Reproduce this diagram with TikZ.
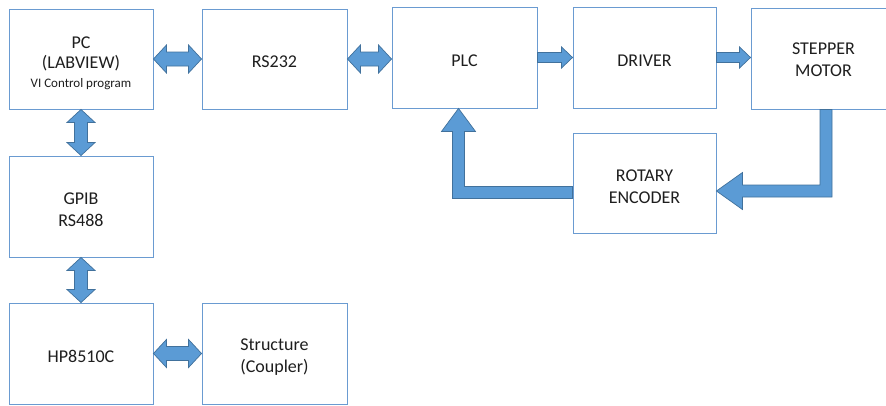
\documentclass[tikz,border=0pt]{standalone}
\usepackage{fontspec}
\setmainfont{Carlito}
\usetikzlibrary{calc}
\definecolor{boxblue}{HTML}{6A9BD1}
\definecolor{arrfill}{HTML}{5B9BD5}
\definecolor{arrline}{HTML}{41719C}
\definecolor{textgray}{HTML}{1E1E1E}
\newcommand{\topstrut}[1]{\rule{0pt}{#1}}
\tikzset{
  blk/.style={draw=boxblue, line width=0.9pt, fill=white, inner sep=0pt, align=center,
    text=textgray, font=\fontsize{18}{22}\selectfont,
    execute at begin node={\rule{0pt}{17.5pt}}},
  fatarrow/.style={fill=arrfill, draw=arrline, line width=0.7pt, line join=miter}
}
\newcommand{\DblH}[5]{\draw[fatarrow] let \p1=(#1), \p2=(#2) in
  (\x1,\y1) -- (\x1+#5,\y1+#4) -- (\x1+#5,\y1+#3) -- (\x2-#5,\y1+#3) -- (\x2-#5,\y1+#4)
  -- (\x2,\y1) -- (\x2-#5,\y1-#4) -- (\x2-#5,\y1-#3) -- (\x1+#5,\y1-#3) -- (\x1+#5,\y1-#4) -- cycle;}
\newcommand{\DblV}[5]{\draw[fatarrow] let \p1=(#1), \p2=(#2) in
  (\x1,\y1) -- (\x1+#4,\y1-#5) -- (\x1+#3,\y1-#5) -- (\x1+#3,\y2+#5) -- (\x1+#4,\y2+#5)
  -- (\x1,\y2) -- (\x1-#4,\y2+#5) -- (\x1-#3,\y2+#5) -- (\x1-#3,\y1-#5) -- (\x1-#4,\y1-#5) -- cycle;}
\newcommand{\SglH}[5]{\draw[fatarrow] let \p1=(#1), \p2=(#2) in
  (\x1,\y1+#3) -- (\x2-#5,\y1+#3) -- (\x2-#5,\y1+#4) -- (\x2,\y1) -- (\x2-#5,\y1-#4)
  -- (\x2-#5,\y1-#3) -- (\x1,\y1-#3) -- cycle;}
\begin{document}
\begin{tikzpicture}[x=1pt,y=-1pt]
\useasboundingbox (0,0) rectangle (886,405);
\clip (0,0) rectangle (886,405);
\fill[white] (0,0) rectangle (886,405);

\node[blk, minimum width=144pt, minimum height=100pt, font=\fontsize{18}{20}\selectfont] (pc) at (81,59)
  {\topstrut{20pt}PC\\(LABVIEW)\\[-1pt]{\fontsize{13}{15}\selectfont VI Control program}};
\node[blk, minimum width=145pt, minimum height=100pt] (rs) at (274.5,59) {RS232};
\node[blk, minimum width=145pt, minimum height=101pt] (plc) at (464.5,57.5) {PLC};
\node[blk, minimum width=143pt, minimum height=101pt] (drv) at (644.5,57.5) {DRIVER};
\node[blk, minimum width=145pt, minimum height=101pt] (stp) at (823.5,58.5) {\topstrut{15pt}STEPPER\\MOTOR};
\node[blk, minimum width=143pt, minimum height=100pt] (enc) at (644.5,183) {\topstrut{20pt}ROTARY\\ENCODER};
\node[blk, minimum width=144pt, minimum height=101pt] (gpib) at (81,206.5) {\topstrut{19pt}GPIB\\RS488};
\node[blk, minimum width=144pt, minimum height=101pt] (hp) at (81,353.5) {HP8510C};
\node[blk, minimum width=145pt, minimum height=101pt] (str) at (274.5,353.5) {\topstrut{19pt}Structure\\(Coupler)};

% double arrows
\DblH{pc.east}{rs.west}{7pt}{14pt}{13pt}
\DblH{rs.east}{plc.west}{7pt}{14pt}{13pt}
\DblH{hp.east}{str.west}{7pt}{14pt}{13pt}
\DblV{pc.south}{gpib.north}{6.5pt}{14pt}{13pt}
\DblV{gpib.south}{hp.north}{6.5pt}{14pt}{13pt}

% single arrows
\SglH{plc.east}{drv.west}{5pt}{10.5pt}{11pt}
\SglH{drv.east}{stp.west}{5pt}{10.5pt}{11pt}

% stepper -> encoder
\draw[fatarrow] let \p1=(stp.south), \p2=(enc.east), \p3=(\x1+2.5pt,\y2-8pt) in
  (\x3-6pt,\y1) -- (\x3+6pt,\y1) -- (\x3+6pt,\y3-6pt) -- (\x2+26pt,\y3-6pt)
  -- (\x2+26pt,\y3-18.5pt) -- (\x2,\y3) -- (\x2+26pt,\y3+18.5pt) -- (\x2+26pt,\y3+6pt)
  -- (\x3-6pt,\y3+6pt) -- cycle;

% encoder -> plc
\draw[fatarrow] let \p1=(enc.west), \p2=(plc.south), \p3=(\x2-6pt,\y1-9.5pt) in
  (\x1,\y3+6pt) -- (\x3+6pt,\y3+6pt) -- (\x3+6pt,\y2-23pt) -- (\x3+17pt,\y2-23pt)
  -- (\x3,\y2) -- (\x3-17pt,\y2-23pt) -- (\x3-6pt,\y2-23pt) -- (\x3-6pt,\y3-6pt)
  -- (\x1,\y3-6pt) -- cycle;
\end{tikzpicture}
\end{document}
